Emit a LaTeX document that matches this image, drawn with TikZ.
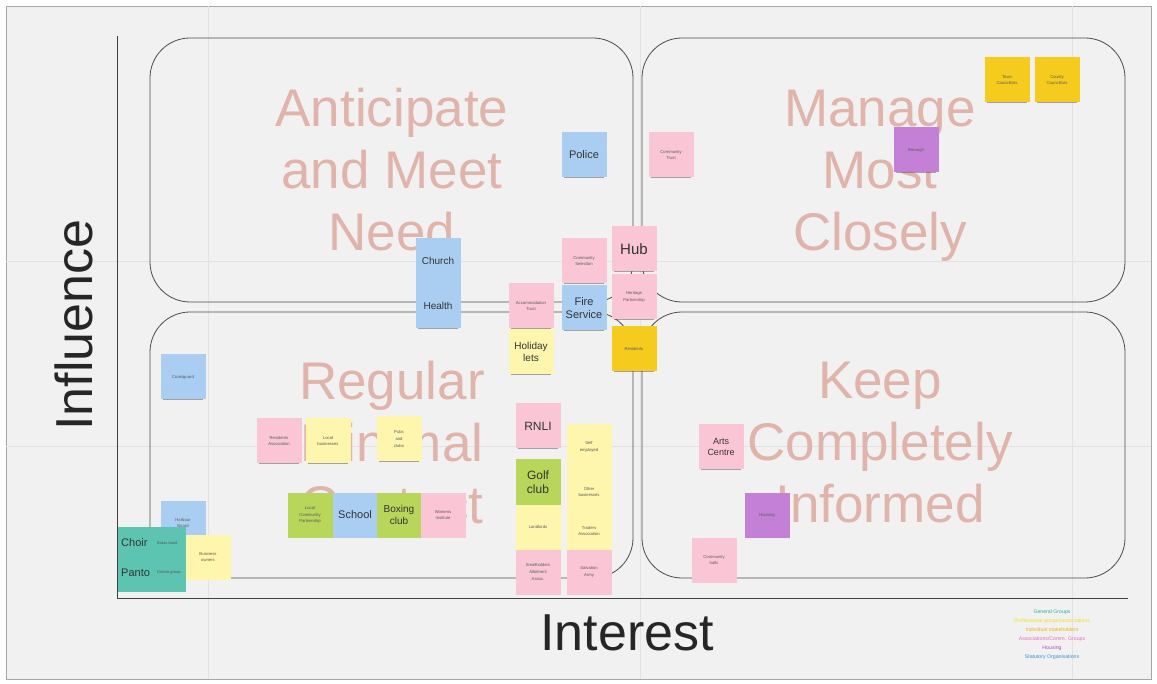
\documentclass[tikz,border=0pt]{standalone}
\usepackage{fontspec}
\setmainfont{Liberation Sans}
\usetikzlibrary{shadows,arrows.meta}
\definecolor{bgc}{RGB}{241,241,241}
\definecolor{gridc}{RGB}{226,226,226}
\definecolor{qlab}{RGB}{224,180,170}
\definecolor{nblue}{RGB}{170,206,242}
\definecolor{npink}{RGB}{250,198,214}
\definecolor{nyel}{RGB}{253,246,172}
\definecolor{ngold}{RGB}{245,204,30}
\definecolor{ngreen}{RGB}{184,214,90}
\definecolor{nteal}{RGB}{92,196,176}
\definecolor{npurple}{RGB}{196,128,214}
\definecolor{lgteal}{RGB}{40,180,140}
\definecolor{lgyel}{RGB}{238,222,40}
\definecolor{lggold}{RGB}{232,180,20}
\definecolor{lgpink}{RGB}{228,110,190}
\definecolor{lgpurple}{RGB}{160,80,190}
\definecolor{lgblue}{RGB}{60,140,215}
\tikzset{
  note/.style={rectangle, minimum width=45pt, minimum height=45pt, inner sep=1pt,
    align=center, text width=42pt, font=\fontsize{4.2}{6.8}\selectfont, text=black!65,
    drop shadow={shadow xshift=0pt, shadow yshift=-3pt, shadow scale=0.9, opacity=0.45, fill=black!75}},
  big/.style={font=\fontsize{11}{13}\selectfont, text=black!80},
  qlabel/.style={font=\fontsize{53}{62}\selectfont, text=qlab, align=center},
  quad/.style={draw=black!70, line width=0.8pt, rounded corners=40pt},
  axis/.style={draw=black!75, line width=1pt},
  legend/.style={font=\fontsize{5.2}{6}\selectfont, inner sep=0pt}
}
\begin{document}
\begin{tikzpicture}[x=1pt,y=-1pt]
\useasboundingbox (0,0) rectangle (1157,684);
\fill[white] (0,0) rectangle (1157,684);
\fill[bgc] (6,6) rectangle (1151,679);
\draw[black!35, line width=0.8pt] (6,6) rectangle (1151,679);
% faint grid
\foreach \gx in {208,640,1072} \draw[gridc, line width=1pt] (\gx,6) -- (\gx,679);
\foreach \gy in {262,447} \draw[gridc, line width=1pt] (6,\gy) -- (1151,\gy);
% quadrants
\draw[quad] (150,38) rectangle (633,302);
\draw[quad] (642,38) rectangle (1125,302);
\draw[quad] (150,312) rectangle (633,578);
\draw[quad] (642,312) rectangle (1125,578);
% axes
\coordinate (orig) at (117,598);
\coordinate (ytop) at (117,36);
\coordinate (xend) at (1128,598);
\draw[axis] (orig) -- (ytop);
\draw[axis] (orig) -- (xend);
\node[font=\fontsize{52}{52}\selectfont, text=black!85, rotate=90] (infl) at (74,325) {Influence};
\node[font=\fontsize{52}{52}\selectfont, text=black!85] (intr) at (627,633) {Interest};
% quadrant labels
\node[qlabel] (q1) at (392,170) {Anticipate\\and Meet\\Need};
\node[qlabel] (q2) at (880,176) {Manage\\Most\\Closely};
\node[qlabel] (q3) at (392,443) {Regular\\Minimal\\Contact};
\node[qlabel] (q4) at (880,443) {Keep\\Completely\\Informed};
% notes top
\node[note, fill=ngold] (town) at (1007,80) {Town\\Councillors};
\node[note, fill=ngold] (county) at (1057,80) {County\\Councillors};
\node[note, fill=npurple] (borough) at (916,150) {Borough};
\node[note, fill=nblue, big] (police) at (584,155) {Police};
\node[note, fill=npink] (ctrust) at (671,155) {Community\\Trust};
\node[note, fill=npink] (csel) at (584,261) {Community\\Selection};
\node[note, fill=npink, font=\fontsize{15}{15}\selectfont, text=black!80] (hub) at (634,249) {Hub};
\node[note, fill=npink] (herit) at (634,297) {Heritage\\Partnership};
\node[note, fill=nblue, big] (fire) at (584,308) {Fire\\Service};
\node[note, fill=npink] (accom) at (531,306) {Accommodation\\Trust};
\node[note, fill=nyel, big, font=\fontsize{10}{12}\selectfont] (holiday) at (531,352) {Holiday\\lets};
\node[note, fill=ngold] (resid) at (634,349) {Residents};
\node[note, fill=nblue, big, font=\fontsize{10}{12}\selectfont] (church) at (438,261) {Church};
\node[note, fill=nblue, big, font=\fontsize{10}{12}\selectfont] (health) at (438,306) {Health};
% notes lower left
\node[note, fill=nblue] (coast) at (183,377) {Coastguard};
\node[note, fill=npink] (resass) at (279,441) {Residents\\Association};
\node[note, fill=nyel] (localb) at (328,441) {Local\\businesses};
\node[note, fill=nyel] (pubs) at (399,439) {Pubs\\and\\clubs};
\node[note, fill=ngreen] (lcp) at (310,515) {Local\\Community\\Partnership};
\node[note, fill=nblue, big] (school) at (355,515) {School};
\node[note, fill=ngreen, big, font=\fontsize{10}{12}\selectfont] (boxing) at (399,515) {Boxing\\club};
\node[note, fill=npink] (wi) at (443,515) {Womens\\Institute};
\node[note, fill=nblue] (harb) at (183,523) {Harbour\\Board};
\node[note, fill=nyel] (busown) at (208,557) {Business\\owners};
\node[rectangle, fill=nteal, minimum width=68pt, minimum height=65pt, inner sep=0pt,
  drop shadow={shadow xshift=0pt, shadow yshift=-3pt, shadow scale=0.92, opacity=0.45, fill=black!75}] (choir) at (152,559) {};
\node[font=\fontsize{11}{11}\selectfont, text=black!80, anchor=west, inner sep=1pt] (choirt) at (120,543) {Choir};
\node[font=\fontsize{4}{4}\selectfont, text=black!65, anchor=west, inner sep=1pt] (brass) at (156,543) {Brass band};
\node[font=\fontsize{11}{11}\selectfont, text=black!80, anchor=west, inner sep=1pt] (pantot) at (120,573) {Panto};
\node[font=\fontsize{4}{4}\selectfont, text=black!65, anchor=west, inner sep=1pt] (drama) at (156,573) {Drama group};
% middle column
\node[note, fill=npink, big, font=\fontsize{12}{12}\selectfont] (rnli) at (538,426) {RNLI};
\node[note, fill=nyel] (selfemp) at (589,447) {Self\\employed};
\node[note, fill=ngreen, big, font=\fontsize{12}{14}\selectfont] (golf) at (538,482) {Golf\\club};
\node[note, fill=nyel] (otherb) at (589,492) {Other\\businesses};
\node[note, fill=nyel] (landl) at (538,527) {Landlords};
\node[note, fill=nyel] (traders) at (589,531) {Traders\\Association};
\node[note, fill=npink] (small) at (538,572) {Smallholders\\Allotment\\Assoc.};
\node[note, fill=npink] (salv) at (589,572) {Salvation\\Army};
% right lower
\node[note, fill=npink, big, font=\fontsize{9}{11}\selectfont] (arts) at (721,447) {Arts\\Centre};
\node[note, fill=npurple] (housing) at (767,515) {Housing};
\node[note, fill=npink] (halls) at (714,560) {Community\\halls};
% legend
\node[legend, text=lgteal] (lg1) at (1052,612) {General Groups};
\node[legend, text=lgyel] (lg2) at (1052,621) {Professional groups/associations};
\node[legend, text=lggold] (lg3) at (1052,630) {Individual stakeholders};
\node[legend, text=lgpink] (lg4) at (1052,639) {Associations/Comm. Groups};
\node[legend, text=lgpurple] (lg5) at (1052,648) {Housing};
\node[legend, text=lgblue] (lg6) at (1052,657) {Statutory Organisations};
\end{tikzpicture}
\end{document}
